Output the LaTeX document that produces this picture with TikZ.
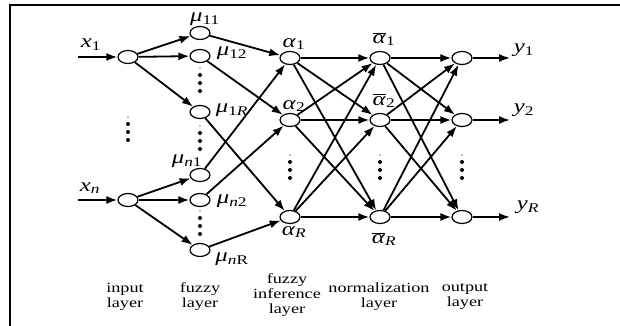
\documentclass[tikz,border=0pt]{standalone}
\usepackage{fontspec}
\setmainfont{Liberation Serif}
\newfontfamily\widefont[FakeStretch=1.3]{Liberation Serif}
\usetikzlibrary{arrows.meta,positioning,shapes.geometric}
\newcommand{\lab}[2]{\textit{#1}\textsubscript{#2}}
\newcommand{\barlab}[2]{$\overline{\mbox{\textit{#1}}}$\textsubscript{#2}}
\newcommand{\dotcol}[2]{%
  \fill (#1,#2) circle (0.7);
  \foreach \k in {0,1,2} \fill (#1,#2+7+8*\k) circle (2);}

\begin{document}
\begin{tikzpicture}[
      x=1pt, y=-1pt,
      neuron/.style={ellipse, draw, line width=1.2pt, fill=white, minimum width=20pt, minimum height=13pt, inner sep=0pt},
      arr/.style={-{Latex[length=11pt,width=8pt]}, line width=1.8pt},
      sym/.style={font=\widefont\fontsize{19}{21}\selectfont, inner sep=0pt},
      layer/.style={font=\widefont\fontsize{14}{15}\selectfont, align=center, inner sep=0pt}
    ]
      \useasboundingbox (0,0) rectangle (620,326);
      \draw[line width=1.3pt] (10,326) -- (10,5) -- (620,5);

      % input layer
      \node[neuron] (i1) at (128,57) {};
      \node[neuron] (in) at (128,200) {};
      \coordinate (x1) at (78,57);
      \coordinate (xn) at (78,200);

      % fuzzy layer
      \node[neuron] (m11) at (200,33) {};
      \node[neuron] (m12) at (200,56) {};
      \node[neuron] (m1R) at (200,112) {};
      \node[neuron] (mn1) at (200,175) {};
      \node[neuron] (mn2) at (200,200) {};
      \node[neuron] (mnR) at (200,250) {};

      % inference, normalization, output
      \node[neuron] (a1) at (290,58) {};
      \node[neuron] (a2) at (290,120) {};
      \node[neuron] (aR) at (290,217) {};
      \node[neuron] (b1) at (380,58) {};
      \node[neuron] (b2) at (380,120) {};
      \node[neuron] (bR) at (380,217) {};
      \node[neuron] (o1) at (462,58) {};
      \node[neuron] (o2) at (462,120) {};
      \node[neuron] (oR) at (462,217) {};
      \coordinate (y1) at (510,58);
      \coordinate (y2) at (510,120);
      \coordinate (yR) at (510,217);

      \draw[arr] (x1) -- (i1);
      \draw[arr] (xn) -- (in);
      \foreach \m in {m11,m12,m1R} \draw[arr] (i1) -- (\m);
      \foreach \m in {mn1,mn2,mnR} \draw[arr] (in) -- (\m);
      \draw[arr] (m11) -- (a1);
      \draw[arr] (mn1) -- (a1);
      \draw[arr] (m12) -- (a2);
      \draw[arr] (mn2) -- (a2);
      \draw[arr] (m1R) -- (aR);
      \draw[arr] (mnR) -- (aR);
      \foreach \s in {a1,a2,aR} \foreach \t in {b1,b2,bR} \draw[arr] (\s) -- (\t);
      \foreach \s in {b1,b2,bR} \foreach \t in {o1,o2,oR} \draw[arr] (\s) -- (\t);
      \draw[arr] (o1) -- (y1);
      \draw[arr] (o2) -- (y2);
      \draw[arr] (oR) -- (yR);

      % dots
      \dotcol{128}{117}
      \dotcol{200}{68}
      \dotcol{200}{126}
      \dotcol{200}{211}
      \dotcol{290}{155}
      \dotcol{380}{155}
      \dotcol{462}{155}

      % labels
      \node[sym] (lx1) at (91,45) {\lab{x}{1}};
      \node[sym] (lxn) at (90,188) {\lab{x}{\textit{n}}};
      \node[sym] (l11) at (205,19) {\lab{μ}{11}};
      \node[sym] (l12) at (232,53) {\lab{μ}{12}};
      \node[sym] (l1R) at (232,110) {\lab{μ}{1\textit{R}}};
      \node[sym] (ln1) at (187,161) {\lab{μ}{\textit{n}1}};
      \node[sym] (ln2) at (232,201) {\lab{μ}{\textit{n}2}};
      \node[sym] (lnR) at (232,259) {\lab{μ}{\textit{n}R}};
      \node[sym] (la1) at (294,44) {\lab{α}{1}};
      \node[sym] (la2) at (294,106) {\lab{α}{2}};
      \node[sym] (laR) at (294,232) {\lab{α}{\textit{R}}};
      \node[sym] (lb1) at (384,39) {\barlab{α}{1}};
      \node[sym] (lb2) at (384,101) {\barlab{α}{2}};
      \node[sym] (lbR) at (384,239) {\barlab{α}{\textit{R}}};
      \node[sym] (ly1) at (524,50) {\lab{y}{1}};
      \node[sym] (ly2) at (524,110) {\lab{y}{2}};
      \node[sym] (lyR) at (528,207) {\lab{y}{\textit{R}}};

      \node[layer] (tin) at (125,297) {input\\layer};
      \node[layer] (tfz) at (200,297) {fuzzy\\layer};
      \node[layer] (tinf) at (287,295) {fuzzy\\inference\\layer};
      \node[layer] (tnorm) at (379,297) {normalization\\layer};
      \node[layer] (tout) at (465,297) {output\\layer};
    \end{tikzpicture}
\end{document}
